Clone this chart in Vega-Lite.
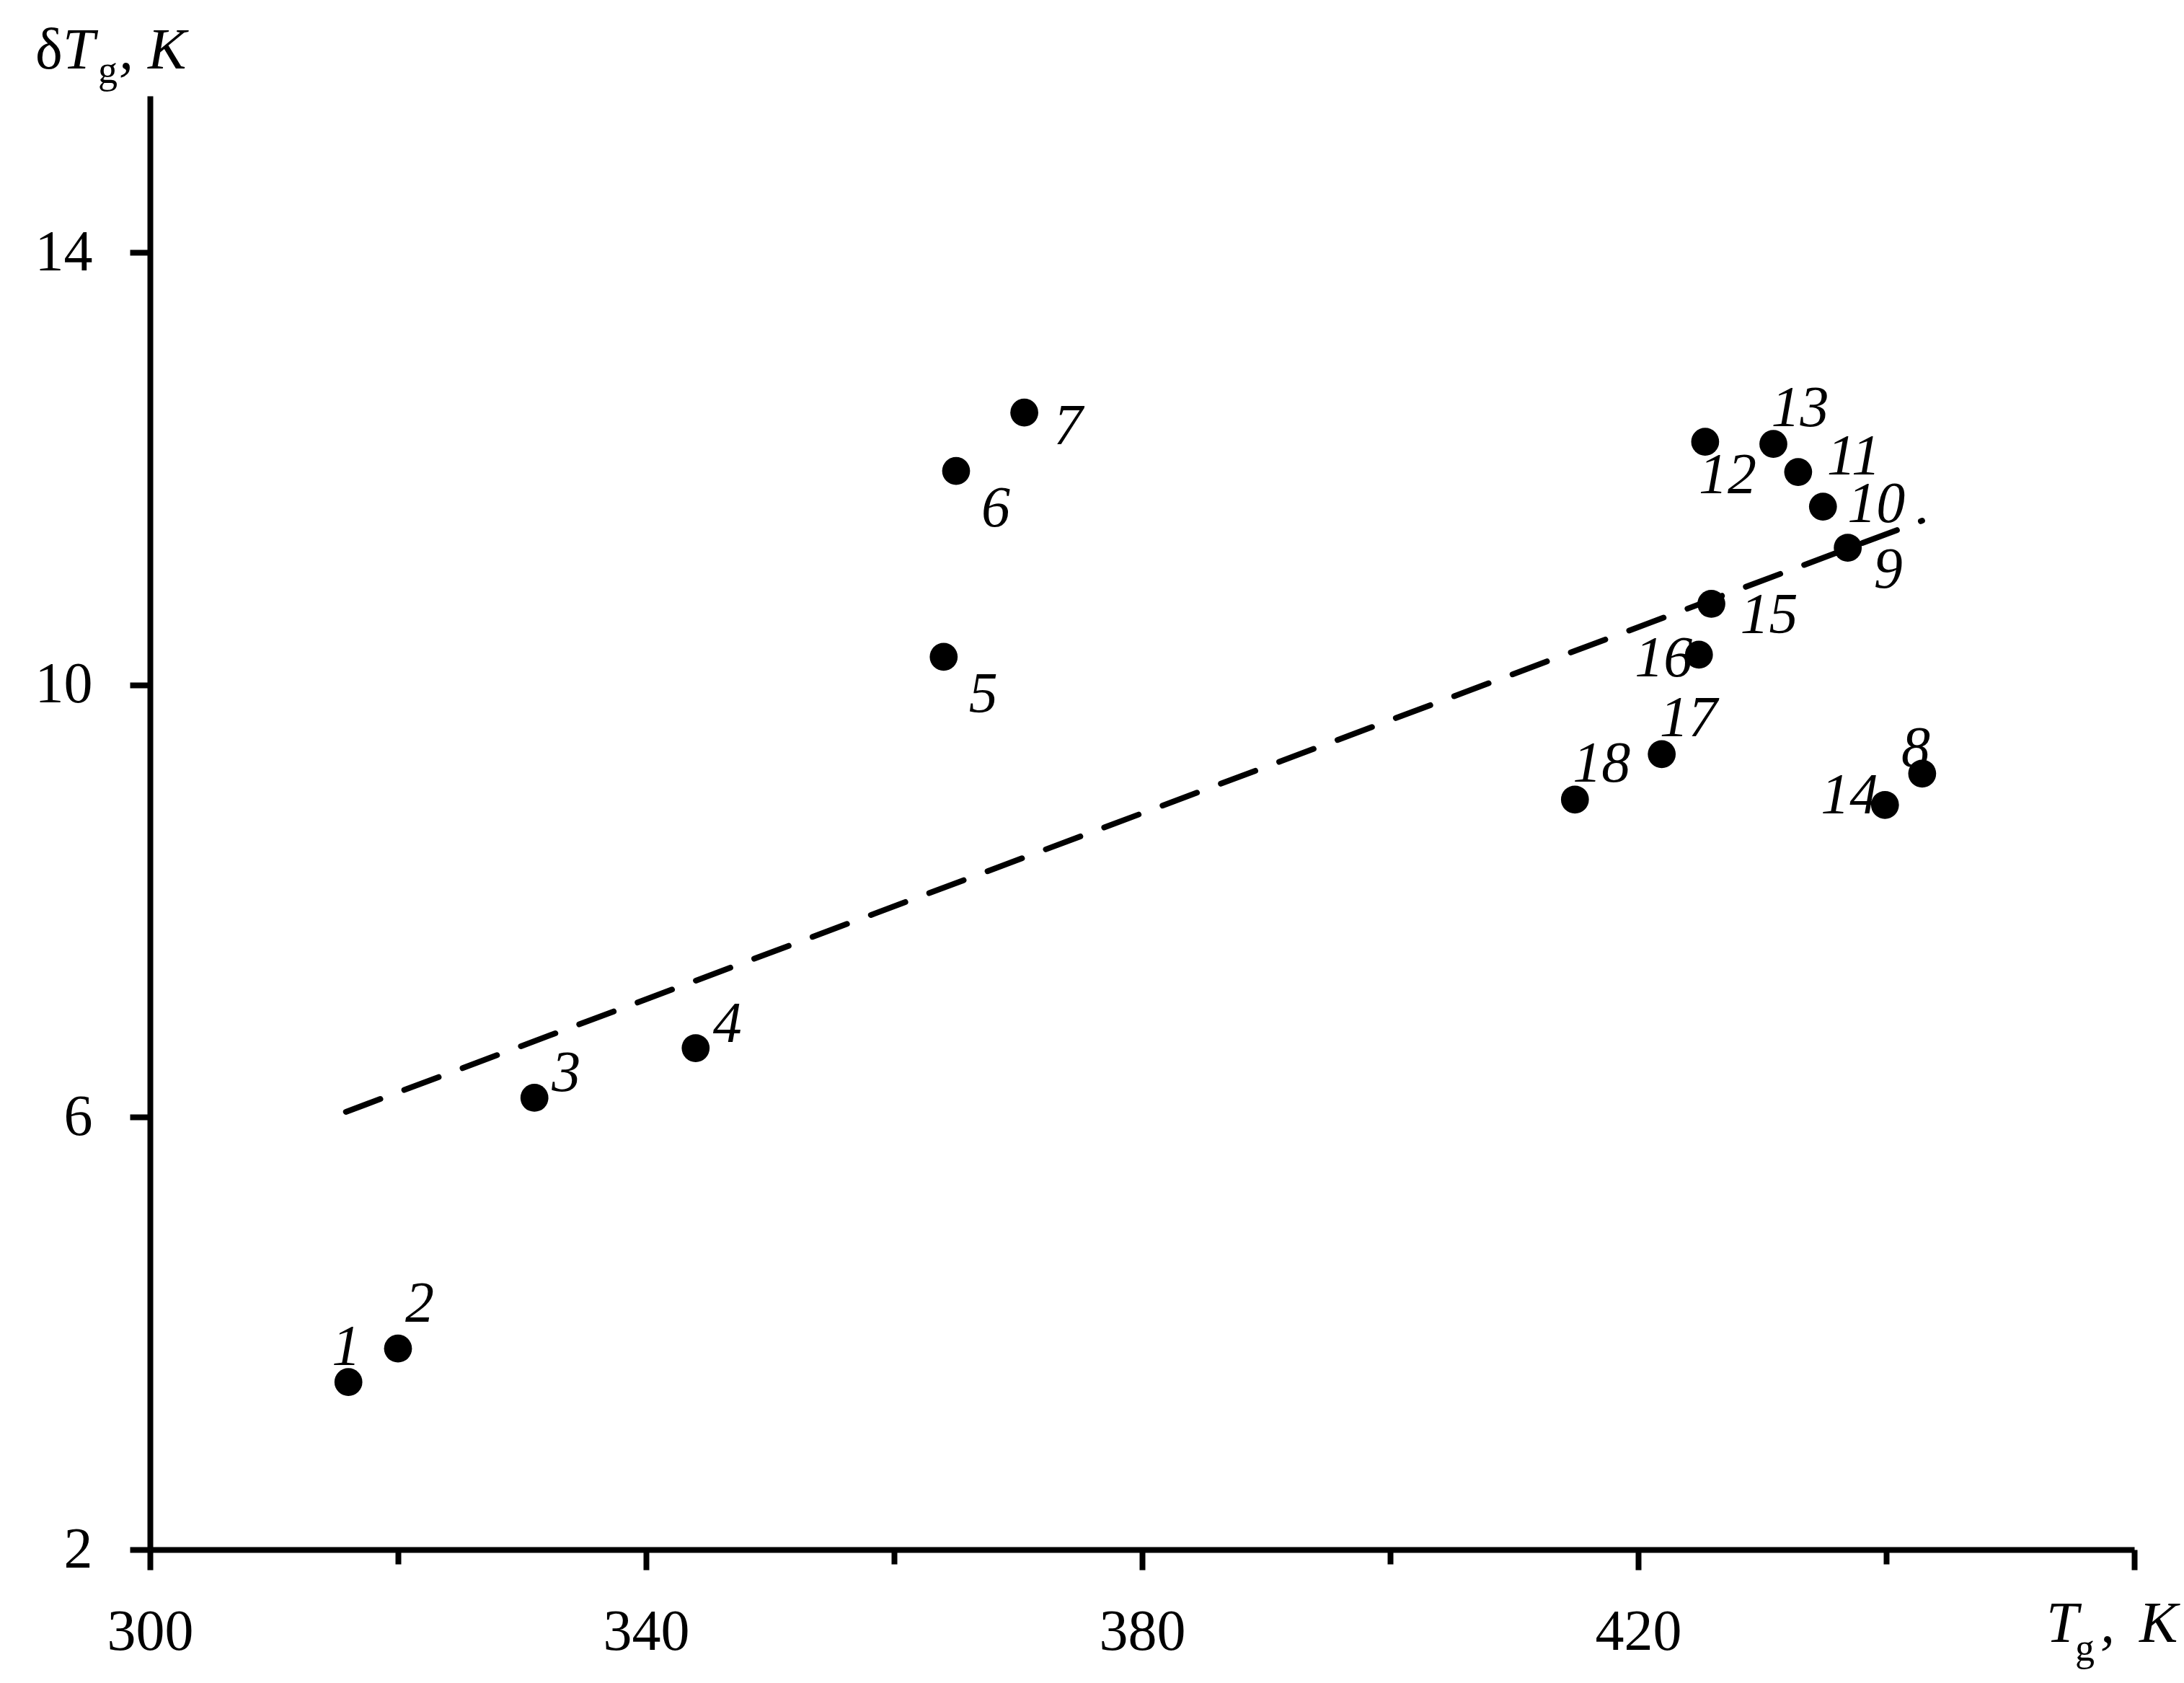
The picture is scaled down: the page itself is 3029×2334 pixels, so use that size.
{
  "$schema": "https://vega.github.io/schema/vega-lite/v6.json",
  "width": 2752,
  "height": 2016,
  "autosize": {"type": "none"},
  "padding": {"left": 208, "top": 133, "right": 69, "bottom": 185},
  "background": "white",
  "config": {"view": {"stroke": null}, "font": "Liberation Serif"},
  "datasets": {
    "points": [
      {"id": 1, "T": 316.0, "dT": 3.55},
      {"id": 2, "T": 320.0, "dT": 3.86},
      {"id": 3, "T": 331.0, "dT": 6.18},
      {"id": 4, "T": 344.0, "dT": 6.64},
      {"id": 5, "T": 364.0, "dT": 10.26},
      {"id": 6, "T": 365.0, "dT": 11.98},
      {"id": 7, "T": 370.5, "dT": 12.52},
      {"id": 8, "T": 442.9, "dT": 9.18},
      {"id": 9, "T": 436.9, "dT": 11.27},
      {"id": 10, "T": 434.9, "dT": 11.65},
      {"id": 11, "T": 432.9, "dT": 11.97},
      {"id": 12, "T": 425.4, "dT": 12.25},
      {"id": 13, "T": 430.9, "dT": 12.23},
      {"id": 14, "T": 439.9, "dT": 8.89},
      {"id": 15, "T": 425.9, "dT": 10.75},
      {"id": 16, "T": 424.9, "dT": 10.28},
      {"id": 17, "T": 421.9, "dT": 9.36},
      {"id": 18, "T": 414.9, "dT": 8.94}
    ],
    "trend": [
      {"T": 315.8, "dT": 6.05},
      {"T": 442.9, "dT": 11.52}
    ],
    "titles": [
      {"piece": "yd", "s": "δ", "T": 300, "dT": 15.45},
      {"piece": "yT", "s": "T", "T": 300, "dT": 15.45},
      {"piece": "yg", "s": "g", "T": 300, "dT": 15.45},
      {"piece": "yc", "s": ",", "T": 300, "dT": 15.45},
      {"piece": "yK", "s": "K", "T": 300, "dT": 15.45},
      {"piece": "xT", "s": "T", "T": 460, "dT": 2},
      {"piece": "xg", "s": "g", "T": 460, "dT": 2},
      {"piece": "xc", "s": ",", "T": 460, "dT": 2},
      {"piece": "xK", "s": "K", "T": 460, "dT": 2}
    ]
  },
  "data": {"name": "points"},
  "encoding": {
    "x": {
      "field": "T", "type": "quantitative",
      "scale": {"domain": [300, 460], "nice": false, "zero": false},
      "axis": {
        "values": [300, 320, 340, 360, 380, 400, 420, 440, 460],
        "title": null, "grid": false,
        "domainColor": "black", "domainWidth": 8,
        "tickColor": "black", "tickWidth": 8,
        "tickSize": {"condition": {"test": "datum.value % 40 == 0", "value": 20}, "value": 28},
        "labelFont": "Liberation Serif", "labelFontSize": 80, "labelColor": "black",
        "labelPadding": 47, "labelBaseline": "top",
        "labelExpr": "datum.value % 40 == 0 || datum.value == 460 ? '' : datum.label",
        "labelFlush": false, "labelOverlap": false
      }
    },
    "y": {
      "field": "dT", "type": "quantitative",
      "scale": {"domain": [2, 15.45], "nice": false, "zero": false},
      "axis": {
        "values": [2, 6, 10, 14],
        "title": null, "grid": false,
        "domainColor": "black", "domainWidth": 8,
        "tickColor": "black", "tickWidth": 8, "tickSize": 28,
        "labelFont": "Liberation Serif", "labelFontSize": 80, "labelColor": "black",
        "labelPadding": 52, "labelBaseline": "middle",
        "labelFlush": false, "labelOverlap": false
      }
    }
  },
  "layer": [
    {
      "data": {"name": "trend"},
      "mark": {"type": "line", "color": "black", "strokeWidth": 8, "strokeDash": [51, 35.4], "strokeCap": "round"},
      "encoding": {}
    },
    {
      "transform": [{"filter": "datum.id == 1"}],
      "mark": {"type": "text", "fontStyle": "italic", "fontSize": 80, "color": "black", "align": "center", "baseline": "middle", "dx": -3, "dy": -48},
      "encoding": {"text": {"field": "id"}}
    },
    {
      "transform": [{"filter": "datum.id == 8"}],
      "mark": {"type": "text", "fontStyle": "italic", "fontSize": 80, "color": "black", "align": "center", "baseline": "middle", "dx": -9, "dy": -34},
      "encoding": {"text": {"field": "id"}}
    },
    {
      "transform": [{"filter": "indexof([13, 17, 18], datum.id) >= 0"}],
      "mark": {"type": "text", "fontStyle": "italic", "fontSize": 80, "color": "black", "align": "center", "baseline": "middle", "dx": 37, "dy": -49},
      "encoding": {"text": {"field": "id"}}
    },
    {
      "transform": [{"filter": "datum.id == 2"}],
      "mark": {"type": "text", "fontStyle": "italic", "fontSize": 80, "color": "black", "align": "center", "baseline": "middle", "dx": 30, "dy": -61},
      "encoding": {"text": {"field": "id"}}
    },
    {
      "transform": [{"filter": "indexof([3, 4], datum.id) >= 0"}],
      "mark": {"type": "text", "fontStyle": "italic", "fontSize": 80, "color": "black", "align": "center", "baseline": "middle", "dx": 44, "dy": -33},
      "encoding": {"text": {"field": "id"}}
    },
    {
      "transform": [{"filter": "datum.id == 10"}],
      "mark": {"type": "text", "fontStyle": "italic", "fontSize": 80, "color": "black", "align": "center", "baseline": "middle", "dx": 74, "dy": -3},
      "encoding": {"text": {"field": "id"}}
    },
    {
      "transform": [{"filter": "datum.id == 11"}],
      "mark": {"type": "text", "fontStyle": "italic", "fontSize": 80, "color": "black", "align": "center", "baseline": "middle", "dx": 77, "dy": -21},
      "encoding": {"text": {"field": "id"}}
    },
    {
      "transform": [{"filter": "datum.id == 15"}],
      "mark": {"type": "text", "fontStyle": "italic", "fontSize": 80, "color": "black", "align": "center", "baseline": "middle", "dx": 80, "dy": 17},
      "encoding": {"text": {"field": "id"}}
    },
    {
      "transform": [{"filter": "datum.id == 7"}],
      "mark": {"type": "text", "fontStyle": "italic", "fontSize": 80, "color": "black", "align": "center", "baseline": "middle", "dx": 61, "dy": 20},
      "encoding": {"text": {"field": "id"}}
    },
    {
      "transform": [{"filter": "indexof([5, 6], datum.id) >= 0"}],
      "mark": {"type": "text", "fontStyle": "italic", "fontSize": 80, "color": "black", "align": "center", "baseline": "middle", "dx": 55, "dy": 53},
      "encoding": {"text": {"field": "id"}}
    },
    {
      "transform": [{"filter": "datum.id == 12"}],
      "mark": {"type": "text", "fontStyle": "italic", "fontSize": 80, "color": "black", "align": "center", "baseline": "middle", "dx": 31, "dy": 47},
      "encoding": {"text": {"field": "id"}}
    },
    {
      "transform": [{"filter": "datum.id == 9"}],
      "mark": {"type": "text", "fontStyle": "italic", "fontSize": 80, "color": "black", "align": "center", "baseline": "middle", "dx": 56, "dy": 31},
      "encoding": {"text": {"field": "id"}}
    },
    {
      "transform": [{"filter": "datum.id == 16"}],
      "mark": {"type": "text", "fontStyle": "italic", "fontSize": 80, "color": "black", "align": "center", "baseline": "middle", "dx": -49, "dy": 6},
      "encoding": {"text": {"field": "id"}}
    },
    {
      "transform": [{"filter": "datum.id == 14"}],
      "mark": {"type": "text", "fontStyle": "italic", "fontSize": 80, "color": "black", "align": "center", "baseline": "middle", "dx": -49, "dy": -12},
      "encoding": {"text": {"field": "id"}}
    },
    {
      "mark": {"type": "point", "filled": true, "shape": "circle", "color": "black", "opacity": 1, "size": 1500}
    },
    {
      "data": {"name": "titles"},
      "transform": [{"filter": "datum.piece == 'yd'"}],
      "mark": {"type": "text", "fontSize": 80, "color": "black", "align": "left", "baseline": "alphabetic", "dx": -159, "dy": -38},
      "encoding": {"text": {"field": "s"}}
    },
    {
      "data": {"name": "titles"},
      "transform": [{"filter": "datum.piece == 'yT'"}],
      "mark": {"type": "text", "fontSize": 80, "fontStyle": "italic", "color": "black", "align": "left", "baseline": "alphabetic", "dx": -121, "dy": -38},
      "encoding": {"text": {"field": "s"}}
    },
    {
      "data": {"name": "titles"},
      "transform": [{"filter": "datum.piece == 'yg'"}],
      "mark": {"type": "text", "fontSize": 54, "color": "black", "align": "left", "baseline": "alphabetic", "dx": -72, "dy": -18},
      "encoding": {"text": {"field": "s"}}
    },
    {
      "data": {"name": "titles"},
      "transform": [{"filter": "datum.piece == 'yc'"}],
      "mark": {"type": "text", "fontSize": 80, "fontStyle": "italic", "color": "black", "align": "left", "baseline": "alphabetic", "dx": -43, "dy": -38},
      "encoding": {"text": {"field": "s"}}
    },
    {
      "data": {"name": "titles"},
      "transform": [{"filter": "datum.piece == 'yK'"}],
      "mark": {"type": "text", "fontSize": 80, "fontStyle": "italic", "color": "black", "align": "left", "baseline": "alphabetic", "dx": -3, "dy": -38},
      "encoding": {"text": {"field": "s"}}
    },
    {
      "data": {"name": "titles"},
      "transform": [{"filter": "datum.piece == 'xT'"}],
      "mark": {"type": "text", "fontSize": 80, "fontStyle": "italic", "color": "black", "align": "left", "baseline": "alphabetic", "dx": -122, "dy": 128},
      "encoding": {"text": {"field": "s"}}
    },
    {
      "data": {"name": "titles"},
      "transform": [{"filter": "datum.piece == 'xg'"}],
      "mark": {"type": "text", "fontSize": 54, "color": "black", "align": "left", "baseline": "alphabetic", "dx": -82, "dy": 154},
      "encoding": {"text": {"field": "s"}}
    },
    {
      "data": {"name": "titles"},
      "transform": [{"filter": "datum.piece == 'xc'"}],
      "mark": {"type": "text", "fontSize": 80, "fontStyle": "italic", "color": "black", "align": "left", "baseline": "alphabetic", "dx": -47, "dy": 128},
      "encoding": {"text": {"field": "s"}}
    },
    {
      "data": {"name": "titles"},
      "transform": [{"filter": "datum.piece == 'xK'"}],
      "mark": {"type": "text", "fontSize": 80, "fontStyle": "italic", "color": "black", "align": "left", "baseline": "alphabetic", "dx": 7, "dy": 128},
      "encoding": {"text": {"field": "s"}}
    }
  ]
}
